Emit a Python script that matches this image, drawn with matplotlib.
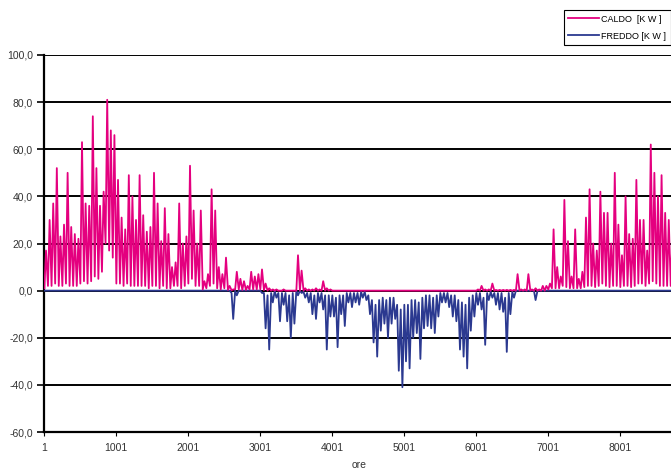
import numpy as np
import matplotlib
matplotlib.use('Agg')
import matplotlib.pyplot as plt
from matplotlib.ticker import FuncFormatter

plt.rcParams['font.family'] = ['Liberation Sans Narrow', 'Liberation Sans', 'DejaVu Sans']

# one spike per 50-hour block (kW)
block = 50

caldo_peak = [17, 30, 37, 52, 23, 28, 50, 27, 24, 22, 63, 37, 36, 74, 52, 36, 42, 81, 68, 66,
              47, 31, 26, 49, 40, 30, 49, 32, 25, 27, 50, 37, 21, 35, 24, 10, 12, 37, 20, 23,
              53, 34, 20, 34, 4, 7, 43, 34, 10, 7, 14, 2, 0.5, 8, 5, 4, 2, 8, 6, 7,
              9, 3, 1, 0.5, 0.5, 0, 0.5, 0, 0, 0, 15, 8.5, 1, 0.5, 0.5, 1, 0.5, 4, 1, 0.5] + [0] * 40 + \
             [0.5, 2, 0.5, 0.5, 3, 0.3, 0.3, 0.3, 0.3, 0.3, 0.3, 7, 0.5, 0.5, 7, 0.5, 1, 0.5, 2, 2,
              3, 26, 10, 6, 38.5, 21, 6, 26, 5, 8, 31, 43, 20, 17, 42, 33, 33, 20, 50, 28,
              15, 40, 24, 22, 47, 30, 30, 17, 62, 50, 40, 49, 33, 30, 21, 14]

caldo_low = [1, 2, 2, 3, 2, 2, 3, 2, 2, 2, 3, 4, 3, 4, 6, 5, 8, 20, 17, 14,
             3, 3, 2, 3, 2, 2, 2, 2, 2, 1, 2, 2, 1, 2, 1, 1, 2, 2, 1, 2,
             3, 5, 2, 2, 0.5, 1, 2, 3, 1, 0.5, 1, 0.3, 0.2, 0.5, 0.5, 0.3, 0.3, 0.5, 0.5, 0.5,
             0.5, 0.2] + [0] * 78 + \
            [0.5, 1, 1, 1, 2, 1.5, 1, 1, 1, 1, 1.5, 2, 2, 1.5, 2, 3, 2, 1.5, 2, 2,
             1.5, 2, 2, 1.5, 2, 3, 3, 2, 3, 4, 3, 2, 2, 2, 2, 1.5]

freddo_peak = [0] * 52 + [-12, -2, 0, 0, 0, 0, 0, 0,
               -1, -16, -25, -5, -3, -13, -6, -13, -20, -14, -2, -1, -3, -5, -10, -12, -5, -8, -25, -11,
               -11, -24, -10, -15, -5, -7, -5, -6, -3, -4, -10, -22, -28, -17, -14, -20, -14, -12, -34, -41,
               -30, -33, -20, -18, -29, -16, -15, -16, -18, -11, -5, -5, -7, -11, -13, -25, -28, -33, -17, -11,
               -6, -8, -23, -4, -3, -6, -8, -9, -26, -10, -3, 0, 0, 0, 0, 0, -4, 0, 0, 0] + [0] * 36

freddo_top = [0] * 52 + [-1] + [0] * 7 + \
             [0, -1, -2, -1, 0, -1, -1, -1, -2, -1, 0, 0, -0.5, -1, -1, -2, -1, -1, -2, -2,
              -2, -3, -2, -2, -1, -1, -1, -1, -0.5, -0.5, -2, -4, -6, -4, -3, -4, -3, -3, -6, -8,
              -6, -6, -4, -4, -5, -3, -2, -2, -3, -2, -1, -1, -1, -2, -2, -4, -5, -6, -3, -2,
              -1, -1, -3, -1, -0.5, -1, -1, -1, -3, -1, -0.5] + [0] * 45

xticks = [1, 1001, 2001, 3001, 4001, 5001, 6001, 7001, 8001]

n = len(caldo_peak)
start = np.arange(n) * block + 1
x = np.column_stack([start + 5, start + 28]).ravel()
caldo = np.column_stack([caldo_low, caldo_peak]).ravel()
freddo = np.column_stack([freddo_top, freddo_peak]).ravel()

fig = plt.figure(figsize=(6.71, 4.69), dpi=100)
ax = fig.add_axes([44 / 671, 1 - 432 / 469, 630.6 / 671, 377 / 469])

l2, = ax.plot(x, freddo, color='#2b3990', lw=1.3, zorder=3)
l1, = ax.plot(x, caldo, color='#e4007f', lw=1.3, zorder=4)

ax.set_xlim(1, 8760)
ax.set_ylim(-60, 100)
ax.set_yticks(np.arange(-60, 101, 20))
ax.set_xticks(xticks)
ax.yaxis.set_major_formatter(FuncFormatter(lambda v, p: ('%.1f' % v).replace('.', ',')))
ax.grid(True, axis='y', color='black', lw=1.4, zorder=1)
for s in ['top', 'right']:
    ax.spines[s].set_visible(False)
ax.spines['left'].set_linewidth(1.6)
ax.spines['bottom'].set_linewidth(1.6)
ax.tick_params(axis='y', length=5, width=1.2, labelsize=7.5, labelcolor='#333333', pad=3)
ax.tick_params(axis='x', length=3, width=0.8, labelsize=7.5, labelcolor='#333333', pad=5)
ax.set_xlabel('ore', fontsize=7.5, color='#333333', labelpad=5)

fig.legend([l1, l2], ['CALDO  [K W ]', 'FREDDO [K W ]'], loc='upper right',
           bbox_to_anchor=(1.0, 1 - 10 / 469), fontsize=6.5, frameon=True, fancybox=False,
           edgecolor='black', framealpha=1, borderpad=0.5, labelspacing=0.9,
           handlelength=3.4, handletextpad=0.3, borderaxespad=0)
fig.legends[0].get_frame().set_linewidth(0.8)

fig.savefig('out.png', dpi=100)
